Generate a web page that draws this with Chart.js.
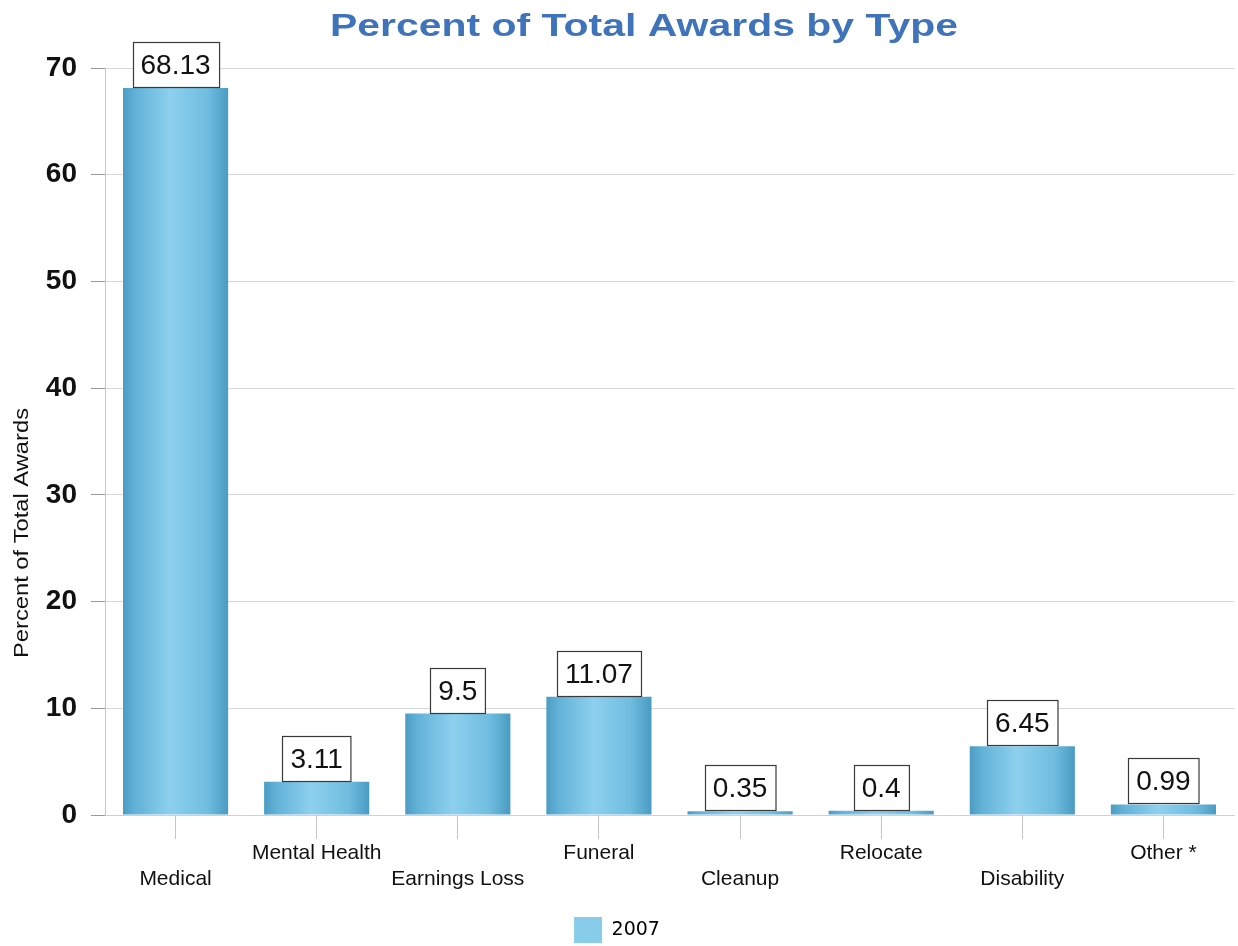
<!DOCTYPE html>
<html>
<head>
<meta charset="utf-8">
<script src="https://cdn.jsdelivr.net/npm/chart.js@4/dist/chart.umd.min.js"></script>
<style>
  html, body { margin: 0; padding: 0; background: #ffffff; }
  #wrap { width: 1238px; height: 946px; position: relative; overflow: hidden; }
</style>
</head>
<body>
<div id="wrap"><canvas id="chart" width="1238" height="946"></canvas></div>
<script>
// Award categories, bottom labels (staggered over two rows) and values (percent of total)
const categories = ['Medical', 'Mental Health', 'Earnings Loss', 'Funeral', 'Cleanup', 'Relocate', 'Disability', 'Other *'];
const lowerRow = [true, false, true, false, true, false, true, false];
const percent2007 = [68.13, 3.11, 9.5, 11.07, 0.35, 0.4, 6.45, 0.99];
const yTicks = [0, 10, 20, 30, 40, 50, 60, 70];
const seriesName = '2007';
const chartTitle = 'Percent of Total Awards by Type';
const yTitle = 'Percent of Total Awards';

// Two-row x labels: lower-row names get two blank lines above them
const xLabels = categories.map((c, i) => lowerRow[i] ? ['', '', c] : [c]);

// Horizontal shading to give each bar a rounded, cylinder-like look
function barGradient(context) {
  const chart = context.chart;
  const area = chart.chartArea;
  if (!area || context.type !== 'data') return '#6fc0e4';
  const xs = chart.scales.x;
  const cx = xs.getPixelForValue(context.dataIndex);
  const half = (xs.width / categories.length) * 0.745 / 2;
  const g = chart.ctx.createLinearGradient(cx - half, 0, cx + half, 0);
  g.addColorStop(0, '#4b9cc4');
  g.addColorStop(0.12, '#63b2d8');
  g.addColorStop(0.45, '#8dd0ee');
  g.addColorStop(0.8, '#70bde0');
  g.addColorStop(1, '#4a9bc2');
  return g;
}

// Boxed value labels sitting on top of each bar
const valueBoxes = {
  id: 'valueBoxes',
  afterDatasetsDraw(chart) {
    const ctx = chart.ctx;
    const meta = chart.getDatasetMeta(0);
    ctx.save();
    ctx.font = '28px "Liberation Sans", Arial, sans-serif';
    ctx.textAlign = 'center';
    ctx.textBaseline = 'middle';
    meta.data.forEach((bar, i) => {
      const text = String(percent2007[i]);
      const w = ctx.measureText(text).width + 16;
      const h = 45;
      const x = Math.round(bar.x - w / 2);
      const y = Math.round(bar.y - h - 1);
      ctx.fillStyle = '#ffffff';
      ctx.fillRect(x, y, w, h);
      ctx.strokeStyle = '#3a3a3a';
      ctx.lineWidth = 1.2;
      ctx.strokeRect(x + 0.5, y + 0.5, w, h);
      ctx.fillStyle = '#111111';
      ctx.fillText(text, bar.x, y + h / 2 + 2);
    });
    ctx.restore();
  }
};

// Chart heading (wide bold face) and the rotated y-axis caption
const captions = {
  id: 'captions',
  afterDraw(chart) {
    const ctx = chart.ctx;
    ctx.save();
    ctx.font = 'bold 32px "Liberation Sans", Arial, sans-serif';
    ctx.fillStyle = '#3f74bb';
    ctx.textAlign = 'center';
    ctx.textBaseline = 'middle';
    const tw = ctx.measureText(chartTitle).width;
    ctx.translate(644, 27);
    ctx.scale(628 / tw, 1);
    ctx.fillText(chartTitle, 0, 0);
    ctx.restore();

    ctx.save();
    ctx.font = '21px "Liberation Sans", Arial, sans-serif';
    ctx.fillStyle = '#111111';
    ctx.textAlign = 'center';
    ctx.textBaseline = 'middle';
    const yw = ctx.measureText(yTitle).width;
    ctx.translate(22, 533);
    ctx.rotate(-Math.PI / 2);
    ctx.scale(250 / yw, 1);
    ctx.fillText(yTitle, 0, 0);
    ctx.restore();
  }
};

new Chart(document.getElementById('chart'), {
  type: 'bar',
  data: {
    labels: xLabels,
    datasets: [{
      label: seriesName,
      data: percent2007,
      backgroundColor: barGradient,
      borderWidth: 0,
      barPercentage: 0.745,
      categoryPercentage: 1.0
    }]
  },
  options: {
    responsive: false,
    animation: false,
    devicePixelRatio: 1,
    layout: { padding: { top: 68, right: 4, left: 0, bottom: -7 } },
    scales: {
      x: {
        grid: { offset: false, drawOnChartArea: false, drawTicks: true, tickLength: 24, tickColor: '#c4c4c4' },
        border: { display: true, color: '#d0d0d0' },
        ticks: {
          color: '#111111',
          font: { family: '"Liberation Sans", Arial, sans-serif', size: 21, lineHeight: '13px' },
          padding: 8,
          maxRotation: 0,
          autoSkip: false
        },
        afterFit(scale) { scale.height = 99; }
      },
      y: {
        min: 0,
        max: 70,
        afterBuildTicks(scale) { scale.ticks = yTicks.map(v => ({ value: v })); },
        grid: { color: '#d8d8d8', lineWidth: 1, tickLength: 14, tickColor: '#9a9a9a' },
        border: { display: true, color: '#c8c8c8' },
        ticks: {
          color: '#111111',
          font: { family: '"Liberation Sans", Arial, sans-serif', size: 28, weight: 'bold' },
          padding: 14
        },
        afterFit(scale) { scale.width = 105; }
      }
    },
    plugins: {
      title: { display: false },
      tooltip: { enabled: false },
      legend: {
        position: 'bottom',
        labels: {
          color: '#111111',
          font: { family: '"DejaVu Sans", sans-serif', size: 19 },
          boxWidth: 28,
          boxHeight: 26,
          padding: 3,
          generateLabels() {
            return [{ text: seriesName, fillStyle: '#87cdea', strokeStyle: '#87cdea', lineWidth: 0, datasetIndex: 0 }];
          }
        }
      }
    }
  },
  plugins: [valueBoxes, captions]
});
</script>
</body>
</html>
